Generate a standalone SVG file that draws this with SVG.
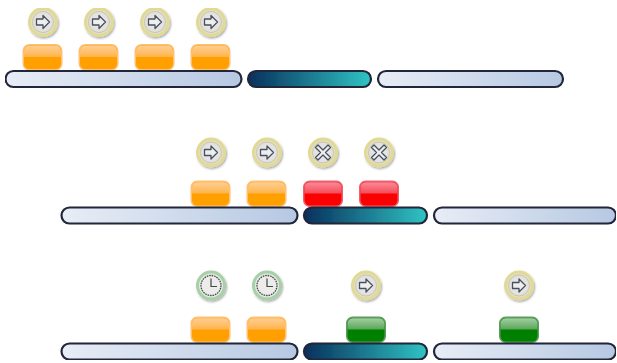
<svg xmlns="http://www.w3.org/2000/svg" width="617" height="363" viewBox="0 0 617 363">
<style>
.bar{stroke:#20263a;stroke-width:2.2}
.light{fill:url(#gl)}
.dark{fill:url(#gd)}
.ic{fill:#eeeeee;stroke:#4a4f5c;stroke-width:1.300;stroke-linejoin:round}
.ring{fill:url(#rg);stroke:#e2da92;stroke-width:3}
.ringg{fill:#e8e8e6;stroke:#a6d0a6;stroke-width:3}
</style>
<defs>
<linearGradient id="gl"><stop offset="0" stop-color="#e8edf6"/><stop offset="1" stop-color="#b6c8e2"/></linearGradient>
<linearGradient id="gd"><stop offset="0" stop-color="#08305c"/><stop offset="1" stop-color="#30c4c4"/></linearGradient>
<linearGradient id="to" x2="0" y2="1"><stop offset="0" stop-color="#ffcf96"/><stop offset="1" stop-color="#ffb34a"/></linearGradient>
<linearGradient id="tr" x2="0" y2="1"><stop offset="0" stop-color="#f88c98"/><stop offset="1" stop-color="#f84a58"/></linearGradient>
<linearGradient id="tg" x2="0" y2="1"><stop offset="0" stop-color="#a4cfa4"/><stop offset="1" stop-color="#58a558"/></linearGradient>
<radialGradient id="rg"><stop offset="0" stop-color="#eeeeee"/><stop offset="1" stop-color="#dadada"/></radialGradient>
<filter id="sh" x="-30%" y="-30%" width="170%" height="170%"><feDropShadow dx="1" dy="1.500" stdDeviation="1.300" flood-color="#000" flood-opacity=".35"/></filter>
<filter id="soft" x="0" y="0" width="100%" height="100%"><feGaussianBlur stdDeviation=".4"/></filter>
<g id="o"><rect x=".75" y=".75" width="38.500" height="25" rx="6" fill="#ffa000" stroke="#ffc070" stroke-width="1.500"/><path d="M1.500 13V7a5.300 5.300 0 0 1 5.300-5.300h26.400a5.300 5.300 0 0 1 5.300 5.300v6z" fill="url(#to)"/></g>
<g id="r"><rect x=".75" y=".75" width="38.500" height="25" rx="6" fill="#fa0000" stroke="#ee6070" stroke-width="1.500"/><path d="M1.500 13V7a5.300 5.300 0 0 1 5.300-5.300h26.400a5.300 5.300 0 0 1 5.300 5.300v6z" fill="url(#tr)"/></g>
<g id="g"><rect x=".75" y=".75" width="38.500" height="25" rx="6" fill="#008000" stroke="#5f9c5f" stroke-width="1.500"/><path d="M1.500 13V7a5.300 5.300 0 0 1 5.300-5.300h26.400a5.300 5.300 0 0 1 5.300 5.300v6z" fill="url(#tg)"/></g>
<g id="ia" filter="url(#sh)"><circle r="13.500" class="ring"/><circle r="10.500" fill="none" stroke="#c9c27e" stroke-width=".8"/><path class="ic" d="M-6.500-3H0V-6.500L6.500 0 0 6.500V3H-6.500Z"/></g>
<g id="ix" filter="url(#sh)"><circle r="13.500" class="ring"/><circle r="10.500" fill="none" stroke="#c9c27e" stroke-width=".8"/><path class="ic" d="M-5-7.500 0-2.500 5-7.500 7.500-5 2.500 0 7.500 5 5 7.500 0 2.500-5 7.500-7.500 5-2.500 0-7.500-5Z"/></g>
<g id="ic" filter="url(#sh)"><circle r="13.500" class="ringg"/><circle r="10" fill="#ececea" stroke="#4a4a4a" stroke-width="1.300" stroke-dasharray="1.600 .9"/><path d="M0-7V1H6" fill="none" stroke="#444" stroke-width="1.200"/></g>
</defs>
<g filter="url(#soft)">
<g id="connectors"/>
<g id="row1">
<g id="r1t1"><use href="#ia" x="43" y="22"/><use href="#o" x="22.500" y="44"/></g>
<g id="r1t2"><use href="#ia" x="99" y="22"/><use href="#o" x="78.500" y="44"/></g>
<g id="r1t3"><use href="#ia" x="155" y="22"/><use href="#o" x="134.500" y="44"/></g>
<g id="r1t4"><use href="#ia" x="211" y="22"/><use href="#o" x="190.500" y="44"/></g>
<rect id="r1b1" class="bar light" x="5.500" y="71" width="236" height="16" rx="8"/>
<rect id="r1b2" class="bar dark" x="248" y="71" width="123" height="16" rx="8"/>
<rect id="r1b3" class="bar light" x="378" y="71" width="185" height="16" rx="8"/>
</g>
<g id="row2">
<g id="r2t1"><use href="#ia" x="211" y="152.500"/><use href="#o" x="190.500" y="180.500"/></g>
<g id="r2t2"><use href="#ia" x="267" y="152.500"/><use href="#o" x="246.500" y="180.500"/></g>
<g id="r2t3"><use href="#ix" x="323" y="152.500"/><use href="#r" x="303" y="180.500"/></g>
<g id="r2t4"><use href="#ix" x="379" y="152.500"/><use href="#r" x="359" y="180.500"/></g>
<rect id="r2b1" class="bar light" x="61.500" y="207.500" width="236" height="16" rx="8"/>
<rect id="r2b2" class="bar dark" x="304" y="207.500" width="123" height="16" rx="8"/>
<rect id="r2b3" class="bar light" x="434" y="207.500" width="182" height="16" rx="8"/>
</g>
<g id="row3">
<g id="r3t1"><use href="#ic" x="211" y="285.500"/><use href="#o" x="190.500" y="316.500"/></g>
<g id="r3t2"><use href="#ic" x="267" y="285.500"/><use href="#o" x="246.500" y="316.500"/></g>
<g id="r3t3"><use href="#ia" x="366" y="285.500"/><use href="#g" x="346" y="316.500"/></g>
<g id="r3t4"><use href="#ia" x="519" y="285.500"/><use href="#g" x="499" y="316.500"/></g>
<rect id="r3b1" class="bar light" x="61.500" y="343.500" width="236" height="16" rx="8"/>
<rect id="r3b2" class="bar dark" x="304" y="343.500" width="123" height="16" rx="8"/>
<rect id="r3b3" class="bar light" x="434" y="343.500" width="182" height="16" rx="8"/>
</g>
</g>
</svg>
